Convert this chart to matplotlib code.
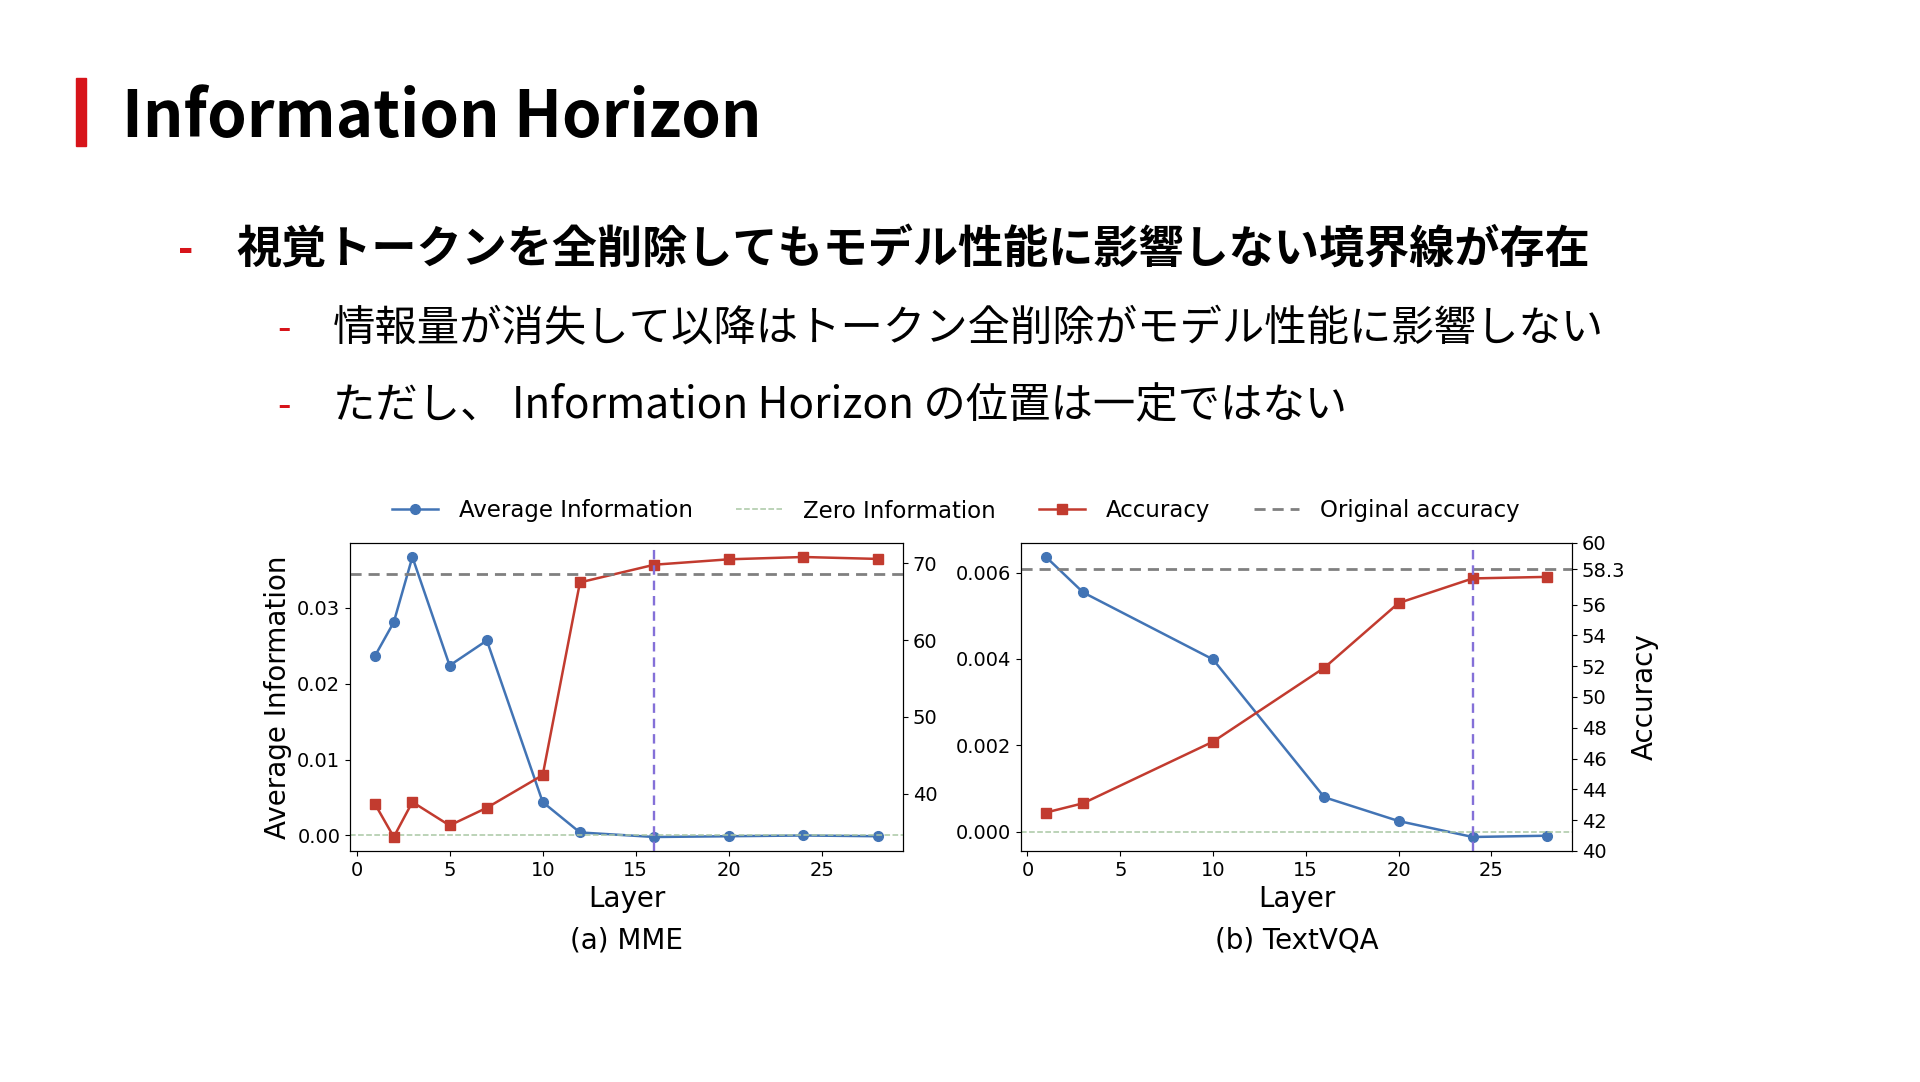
import matplotlib
matplotlib.use("Agg")
import matplotlib.pyplot as plt
from matplotlib.patches import Rectangle

# --- data ---
layers_mme = [1, 2, 3, 5, 7, 10, 12, 16, 20, 24, 28]
info_mme = [0.0237, 0.0281, 0.0367, 0.0224, 0.0257, 0.0044, 0.0004, -0.0002, -0.0001, 0.0000, -0.0001]
acc_mme = [38.65, 34.4, 38.95, 35.9, 38.2, 42.45, 67.5, 69.8, 70.5, 70.8, 70.55]
orig_mme = 68.6
horizon_mme = 16

layers_tvqa = [1, 3, 10, 16, 20, 24, 28]
info_tvqa = [0.00636, 0.00554, 0.00399, 0.0008, 0.00025, -0.00012, -0.00009]
acc_tvqa = [42.5, 43.1, 47.1, 51.9, 56.1, 57.7, 57.8]
orig_tvqa = 58.3
horizon_tvqa = 24

title = "Information Horizon"
bullet_main = "視覚トークンを全削除してもモデル性能に影響しない境界線が存在"
bullet_subs = [
    "情報量が消失して以降はトークン全削除がモデル性能に影響しない",
    "ただし、 Information Horizon の位置は一定ではない",
]

BLUE = "#4274b5"
RED = "#c23b2f"
ACCENT = "#d7141a"
JP = ["Noto Sans CJK JP", "DejaVu Sans"]

W, H = 1920, 1082
fig = plt.figure(figsize=(W / 100, H / 100), dpi=100)


def fx(px):
    return px / W


def fy(py):
    return 1 - py / H


# --- slide header ---
fig.patches.append(Rectangle((fx(76), fy(146)), fx(10), (146 - 78) / H,
                             transform=fig.transFigure, color=ACCENT))
fig.text(fx(122), fy(137), title, family=JP, weight="bold", fontsize=45.7,
         va="baseline", ha="left")

fig.text(fx(178), fy(251), "-", family=JP, weight="bold", fontsize=30,
         color=ACCENT, va="center")
fig.text(fx(236), fy(250), bullet_main, family=JP, weight="bold",
         fontsize=32.5, va="center")
for i, s in enumerate(bullet_subs):
    yy = 329 + i * 77
    fig.text(fx(277), fy(yy + 1), "-", family=JP, fontsize=28, color=ACCENT,
             va="center")
    fig.text(fx(333), fy(yy), s, family=JP, fontsize=30.5, va="center")

# --- charts ---
plt.rcParams["font.family"] = "DejaVu Sans"
TICK = 14
LAB = 20
LW = 1.8
MS = 7

ax1 = fig.add_axes([fx(350), fy(851), fx(553), 308 / H])
ax2 = fig.add_axes([fx(1021), fy(851), fx(551), 308 / H])


def panel(ax, layers, info, acc, orig, horizon):
    ax.plot(layers, info, "-o", color=BLUE, lw=LW, ms=MS)
    ax.axhline(0, color="#a9c7a4", lw=1.1, ls="--")
    tw = ax.twinx()
    tw.plot(layers, acc, "-s", color=RED, lw=LW, ms=MS)
    tw.axhline(orig, color="#808080", lw=2.0, ls="--", dashes=(4, 2.5))
    tw.axvline(horizon, color="#8470d8", lw=1.7, ls="--", dashes=(4, 2.5))
    ax.set_xticks([0, 5, 10, 15, 20, 25])
    ax.tick_params(labelsize=TICK)
    tw.tick_params(labelsize=TICK)
    ax.set_xlabel("Layer", fontsize=LAB)
    return tw


tw1 = panel(ax1, layers_mme, info_mme, acc_mme, orig_mme, horizon_mme)
ax1.set_yticks([0.0, 0.01, 0.02, 0.03])
ax1.set_yticklabels(["0.00", "0.01", "0.02", "0.03"])
ax1.set_ylabel("Average Information", fontsize=LAB)
tw1.set_yticks([40, 50, 60, 70])

tw2 = panel(ax2, layers_tvqa, info_tvqa, acc_tvqa, orig_tvqa, horizon_tvqa)
ax2.set_yticks([0.0, 0.002, 0.004, 0.006])
ax2.set_yticklabels(["0.000", "0.002", "0.004", "0.006"])
tw2.set_ylim(40, 60)
acc_ticks = [40, 42, 44, 46, 48, 50, 52, 54, 56, orig_tvqa, 60]
tw2.set_yticks(acc_ticks)
tw2.set_yticklabels([f"{t:g}" for t in acc_ticks])
tw2.set_ylabel("Accuracy", fontsize=LAB)

fig.text(fx(626), fy(940), "(a) MME", fontsize=LAB, ha="center", va="center")
fig.text(fx(1297), fy(940), "(b) TextVQA", fontsize=LAB, ha="center", va="center")

handles = [
    plt.Line2D([], [], color=BLUE, marker="o", lw=LW, ms=MS),
    plt.Line2D([], [], color="#a9c7a4", lw=1.1, ls="--"),
    plt.Line2D([], [], color=RED, marker="s", lw=LW, ms=MS),
    plt.Line2D([], [], color="#808080", lw=2.0, ls="--", dashes=(4, 2.5)),
]
labels = ["Average Information", "Zero Information", "Accuracy", "Original accuracy"]
fig.legend(handles, labels, loc="center", bbox_to_anchor=(fx(956), fy(511)),
           ncol=4, frameon=False, fontsize=16.5, columnspacing=1.9,
           handletextpad=0.9)

fig.savefig("out.png", dpi=100)
